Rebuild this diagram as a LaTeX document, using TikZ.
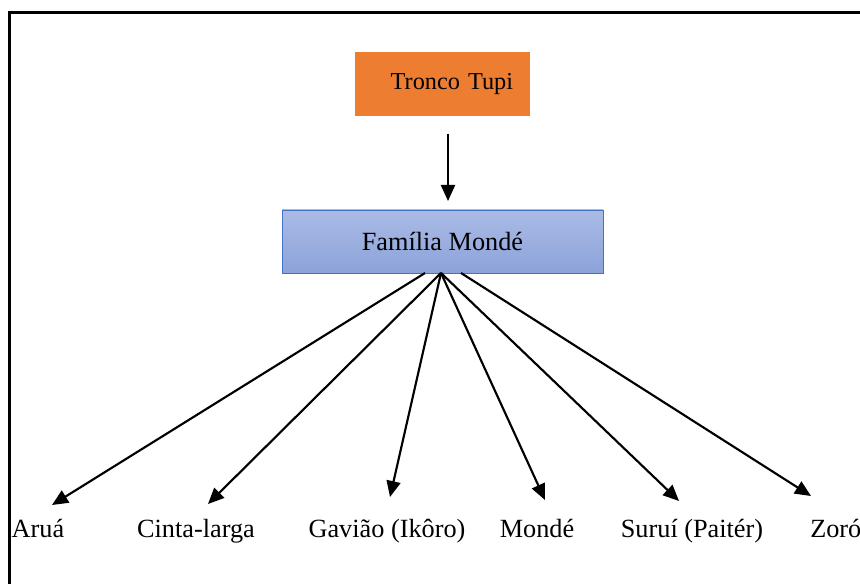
\documentclass[tikz,border=0pt]{standalone}
\usepackage{fontspec}
\setmainfont{Liberation Serif}
\usetikzlibrary{arrows.meta}
\definecolor{orangebox}{HTML}{ED7D31}
\definecolor{famtop}{HTML}{AABAE4}
\definecolor{fambot}{HTML}{8CA3DA}
\definecolor{famborder}{HTML}{4472C4}
\tikzset{
  arr/.style={line width=1.6pt, -{Triangle[length=12pt,width=10.5pt]}},
  lbl/.style={anchor=base, inner sep=0pt, font=\fontsize{19.7}{24}\selectfont},
}
\begin{document}
\begin{tikzpicture}[x=0.75pt,y=-0.75pt]
\useasboundingbox (0,0) rectangle (860,584);
\clip (0,0) rectangle (860,584);
% frame
\draw[line width=1.6pt] (9.5,600) -- (9.5,12.5) -- (880,12.5);
% boxes
\node[fill=orangebox, minimum width=131.25pt, minimum height=48pt, inner xsep=12.75pt,
      text width=105.75pt, align=right, font=\fontsize{18.2}{22}\selectfont]
      (tronco) at (442.5,84) {Tronco Tupi};
\node[top color=famtop, bottom color=fambot, draw=famborder, line width=0.6pt,
      minimum width=240.75pt, minimum height=47.25pt, font=\fontsize{19.7}{24}\selectfont]
      (fam) at (442.5,241.5) {Família Mondé};
\coordinate (tin) at (448,134);
\coordinate (tout) at (448,201);
\draw[arr] (tin) -- (tout);
% origins
\coordinate (oL) at (425,273);
\coordinate (o) at (441,273);
\coordinate (oR) at (461,273);
% tips
\coordinate (tA) at (52,505);
\coordinate (tC) at (208,504);
\coordinate (tG) at (390,497);
\coordinate (tM) at (545,500);
\coordinate (tS) at (679,501);
\coordinate (tZ) at (811,496);
% labels
\node[lbl] (aru) at (38,537) {Aruá};
\node[lbl] (cin) at (196,537) {Cinta-larga};
\node[lbl] (gav) at (387,537) {Gavião (Ikôro)};
\node[lbl] (mon) at (537,537) {Mondé};
\node[lbl] (sur) at (692,537) {Suruí (Paitér)};
\node[lbl, anchor=base west] (zor) at (810,537) {Zoró};
% connectors
\draw[arr] (oL) -- (tA);
\draw[arr] (o) -- (tC);
\draw[arr] (o) -- (tG);
\draw[arr] (o) -- (tM);
\draw[arr] (o) -- (tS);
\draw[arr] (oR) -- (tZ);
\end{tikzpicture}
\end{document}
